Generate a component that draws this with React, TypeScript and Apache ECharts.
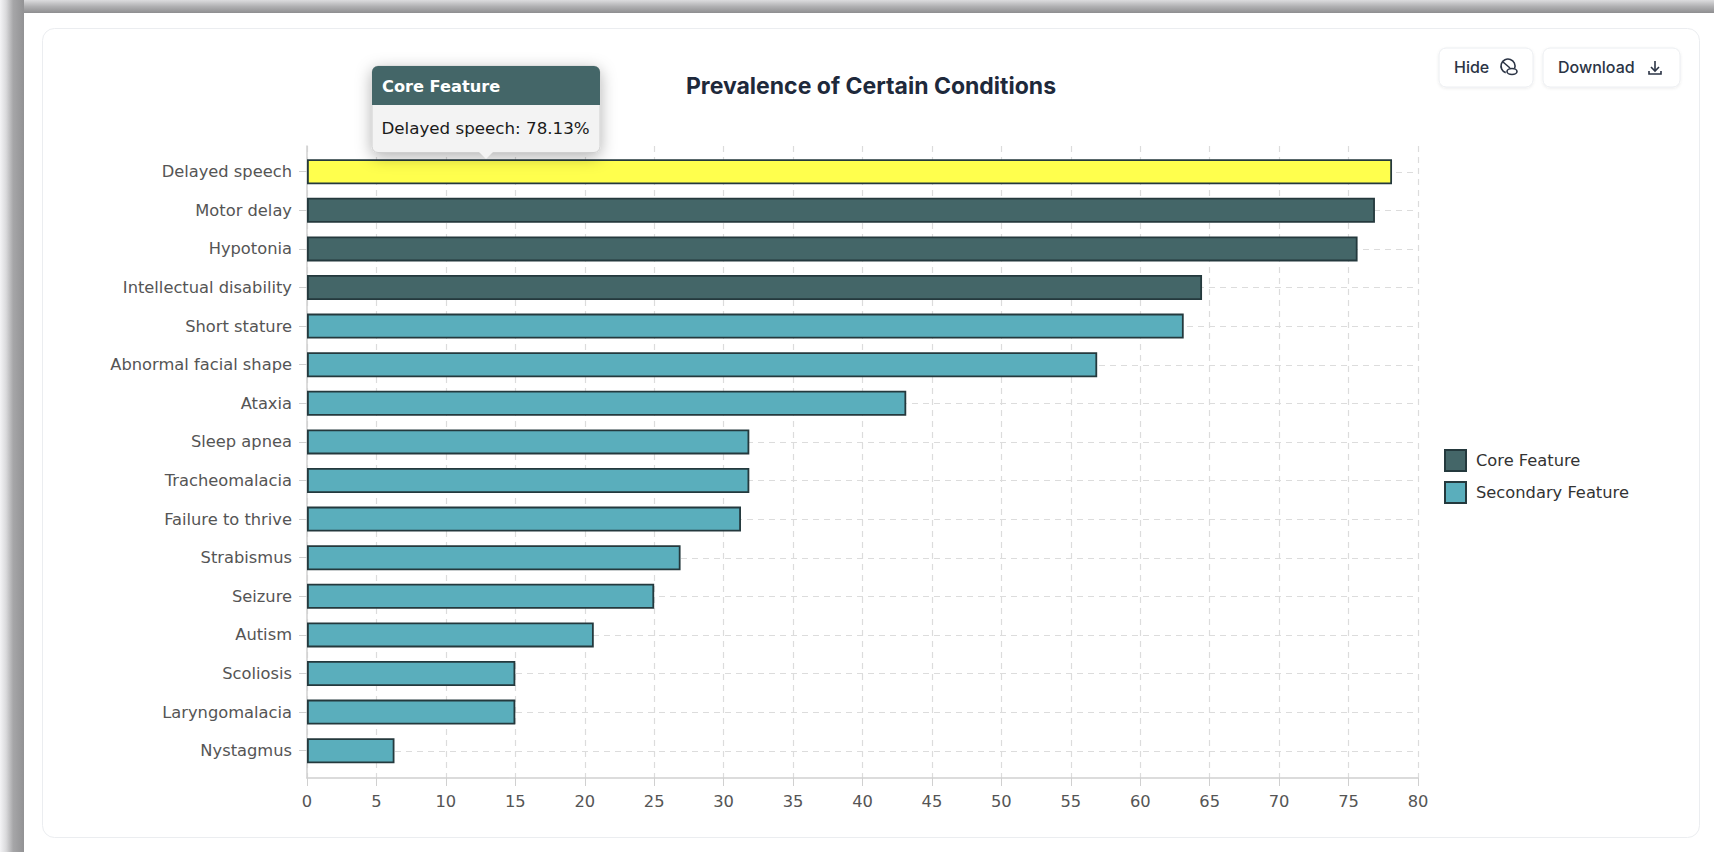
import React, { useEffect, useRef } from "react";
import * as echarts from "echarts";

const categories = ["Delayed speech","Motor delay","Hypotonia","Intellectual disability","Short stature","Abnormal facial shape","Ataxia","Sleep apnea","Tracheomalacia","Failure to thrive","Strabismus","Seizure","Autism","Scoliosis","Laryngomalacia","Nystagmus"];
const coreValues = [78.13,76.9,75.65,64.45,null,null,null,null,null,null,null,null,null,null,null,null];
const secondaryValues = [null,null,null,null,63.13,56.9,43.15,31.85,31.85,31.25,26.9,25,20.65,15,15,6.3];
const highlighted = "Delayed speech";
const FONT = "'DejaVu Sans', Verdana, sans-serif";
const UI = "Inter, 'Noto Sans', sans-serif";
const CORE = "#446668";
const SEC = "#5aaebc";
const EDGE = "#24393d";
const GRIDLINE = { color: "#dcdcdc", type: [6, 5], width: 1.2 };

const button = (x: number, w: number, label: string) => [
  { type: "rect", z: 20, shape: { x, y: 48, width: w, height: 39, r: 7 }, style: { fill: "#fff", stroke: "#eceef1", lineWidth: 1, shadowBlur: 3, shadowColor: "rgba(0,0,0,0.08)", shadowOffsetY: 1 } },
  { type: "text", z: 21, x: x + 15, y: 66.5, style: { text: label, font: `500 16px ${UI}`, fill: "#2b3445", verticalAlign: "middle" } },
];

export default function App() {
  const ref = useRef<HTMLDivElement>(null);
  useEffect(() => {
    document.body.style.margin = "0";
    document.body.style.overflow = "hidden";
    const chart = echarts.init(ref.current!, undefined, { renderer: "svg" });
    const icon = { stroke: "#2b3445", lineWidth: 1.6, fill: "none" };
    chart.setOption({
      animation: false,
      title: { text: "Prevalence of Certain Conditions", left: 866, top: 69, textAlign: "center", textStyle: { fontFamily: UI, fontWeight: 700, fontSize: 23, color: "#1e293b" } },
      grid: [
        { left: 307, top: 146, width: 1111, height: 632 },
        { left: 307, top: 152.4, width: 1111, height: 617.6 },
        { left: 307, top: 171.9, width: 1111, height: 579 },
      ],
      xAxis: [
        { type: "value", gridIndex: 0, min: 0, max: 80, interval: 5,
          axisLine: { show: true, lineStyle: { color: "#d0d0d0", width: 1.5 } },
          axisTick: { show: true, length: 8, lineStyle: { color: "#d0d0d0" } },
          axisLabel: { fontFamily: FONT, fontSize: 16.3, color: "#555", margin: 15, showMinLabel: true, showMaxLabel: true },
          splitLine: { show: true, lineStyle: GRIDLINE } },
        { type: "value", gridIndex: 1, min: 0, max: 80, show: false, splitLine: { show: false } },
        { type: "value", gridIndex: 2, min: 0, max: 80, show: false, splitLine: { show: false } },
      ],
      yAxis: [
        { type: "value", gridIndex: 0, min: 0, max: 1, axisLine: { show: true, lineStyle: { color: "#d0d0d0", width: 1.5 } }, axisTick: { show: false }, axisLabel: { show: false }, splitLine: { show: false } },
        { type: "category", gridIndex: 1, inverse: true, data: categories,
          axisLine: { show: false },
          axisTick: { show: true, alignWithLabel: true, length: 8, lineStyle: { color: "#d0d0d0" } },
          axisLabel: { fontFamily: FONT, fontSize: 16.3, color: "#555", margin: 15, interval: 0 },
          splitLine: { show: false } },
        { type: "value", gridIndex: 2, inverse: true, min: 0, max: categories.length - 1, interval: 1,
          axisLine: { show: false }, axisTick: { show: false }, axisLabel: { show: false },
          splitLine: { show: true, lineStyle: GRIDLINE } },
      ],
      legend: {
        orient: "vertical", left: 1444, top: 449, padding: 0, icon: "rect", itemWidth: 21, itemHeight: 21, itemGap: 9,
        data: ["Core Feature", "Secondary Feature"],
        textStyle: { fontFamily: FONT, fontSize: 16.3, color: "#333", padding: [0, 0, 0, 5] },
      },
      series: [
        { name: "Core Feature", type: "bar", xAxisIndex: 1, yAxisIndex: 1, barWidth: 25, barGap: "-100%",
          itemStyle: { color: CORE, borderColor: EDGE, borderWidth: 1.8 },
          data: coreValues.map((v, i) => categories[i] === highlighted ? { value: v, itemStyle: { color: "#ffff4d" } } : v) },
        { name: "Secondary Feature", type: "bar", xAxisIndex: 1, yAxisIndex: 1, barWidth: 25, barGap: "-100%",
          itemStyle: { color: SEC, borderColor: EDGE, borderWidth: 1.8 },
          data: secondaryValues },
      ],
      graphic: [
        { type: "rect", z: -1, shape: { x: 42.5, y: 28.5, width: 1657, height: 809, r: 12 }, style: { fill: "#fff", stroke: "#ebedf0", lineWidth: 1 } },
        ...button(1439, 94, "Hide"),
        ...button(1543, 137, "Download"),
        // hide icon
        { type: "arc", z: 21, shape: { cx: 1508, cy: 66, r: 7, startAngle: 1.9, endAngle: 0.35, clockwise: true }, style: icon },
        { type: "line", z: 21, shape: { x1: 1503, y1: 62, x2: 1510, y2: 68 }, style: icon },
        { type: "ellipse", z: 21, shape: { cx: 1512, cy: 71.5, rx: 5, ry: 3 }, style: icon },
        // download icon
        { type: "line", z: 21, shape: { x1: 1655, y1: 61, x2: 1655, y2: 70 }, style: icon },
        { type: "polyline", z: 21, shape: { points: [[1651, 67], [1655, 71], [1659, 67]] }, style: icon },
        { type: "polyline", z: 21, shape: { points: [[1649, 71], [1649, 74], [1661, 74], [1661, 71]] }, style: icon },
        // tooltip
        { type: "rect", z: 30, shape: { x: 372, y: 66, width: 228, height: 86.5, r: 6 }, style: { fill: "#f3f3f3", stroke: "#cfcfcf", lineWidth: 1, shadowBlur: 16, shadowColor: "rgba(0,0,0,0.3)", shadowOffsetY: 4 } },
        { type: "polygon", z: 31, shape: { points: [[479, 152], [493, 152], [486, 159]] }, style: { fill: "#f3f3f3" } },
        { type: "rect", z: 32, shape: { x: 372, y: 66, width: 228, height: 39, r: [6, 6, 0, 0] }, style: { fill: CORE } },
        { type: "text", z: 33, x: 382, y: 86, style: { text: "Core Feature", font: `700 16.2px ${FONT}`, fill: "#fff", verticalAlign: "middle" } },
        { type: "text", z: 33, x: 381.5, y: 128, style: { text: "Delayed speech: 78.13%", font: `16.7px ${FONT}`, fill: "#1a1a1a", verticalAlign: "middle" } },
      ],
    });
    return () => chart.dispose();
  }, []);
  return (
    <div style={{ position: "absolute", left: 0, top: 0, width: 1714, height: 852, overflow: "hidden", background: "#fff" }}>
      <div style={{ position: "absolute", left: 0, top: 0, width: 1714, height: 13, background: "linear-gradient(180deg,#dcdcde 0%,#b0b0b2 50%,#8e8e90 100%)" }} />
      <div style={{ position: "absolute", left: 0, top: 0, width: 24, height: 852, background: "linear-gradient(90deg,#f4f4f6 0%,#dadadc 25%,#a6a6a8 55%,#929294 100%)" }} />
      <div ref={ref} style={{ position: "absolute", left: 0, top: 0, width: 1714, height: 852 }} />
    </div>
  );
}
